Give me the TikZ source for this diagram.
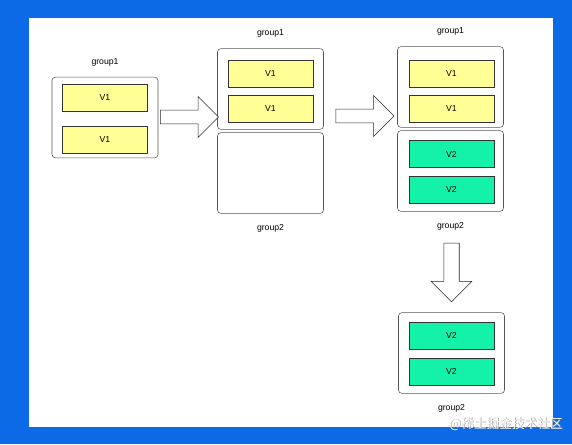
\documentclass[tikz,border=0pt]{standalone}
\usepackage{fontspec}
\setmainfont{Liberation Sans}
\newfontfamily\cjk{Noto Sans CJK SC}
\usepackage{xcolor}
\usetikzlibrary{positioning,shapes.arrows}
\definecolor{frameblue}{RGB}{12,106,230}
\definecolor{vyellow}{RGB}{255,255,150}
\definecolor{vgreen}{RGB}{20,242,170}
\definecolor{groupline}{RGB}{85,85,85}

\begin{document}
\begin{tikzpicture}[
    x=0.75pt, y=-0.75pt,
    every node/.style={font=\fontsize{6.5}{8}\selectfont},
    group/.style={draw=groupline, rounded corners=2.5pt, fill=white, minimum width=79.5pt, minimum height=60.5pt, inner sep=0pt},
    vbox/.style={draw=black!80, minimum width=63.75pt, minimum height=20.5pt, inner sep=0pt},
    v1box/.style={vbox, fill=vyellow},
    v2box/.style={vbox, fill=vgreen},
    blockarr/.style={single arrow, draw=black!85, fill=white, inner xsep=0pt, inner ysep=4.9pt, single arrow head extend=10.1pt, minimum height=43.5pt}
]
% frame
\fill[frameblue] (0,0) rectangle (572,444);
\fill[white] (29,18) rectangle (553,427);

% start: group1 only
\node[group] (ga) at (105,117.5) {};
\node[v1box] (ga1) at (105,97.5) {V1};
\node[v1box] (ga2) at (105,139.5) {V1};
\node[above=4.5pt of ga] (gal) {group1};

% group1 + empty group2
\node[group] (gb) at (270.5,89) {};
\node[v1box] (gb1) at (270.5,74) {V1};
\node[v1box] (gb2) at (270.5,108.5) {V1};
\node[above=4.5pt of gb] (gbl) {group1};
\node[group] (gc) at (270.5,173) {};
\node[below=4.5pt of gc] (gcl) {group2};

% group1 + filled group2
\node[group] (gd) at (450.5,87) {};
\node[v1box] (gd1) at (451.5,74) {V1};
\node[v1box] (gd2) at (451.5,108.5) {V1};
\node[above=4.5pt of gd] (gdl) {group1};
\node[group] (ge) at (450.5,171) {};
\node[v2box] (ge1) at (451.5,154) {V2};
\node[v2box] (ge2) at (451.5,189.5) {V2};
\node[below=4.5pt of ge] (gel) {group2};

% group2 only
\node[group] (gf) at (451.5,353) {};
\node[v2box] (gf1) at (451.5,335.5) {V2};
\node[v2box] (gf2) at (451.5,371.5) {V2};
\node[below=4.5pt of gf] (gfl) {group2};

% steps
\node[blockarr] (arra) at (186,117) {};
\node[blockarr] (arrb) at (361.5,116) {};
\node[blockarr, shape border rotate=270, inner xsep=5.6pt, inner ysep=0pt, single arrow head extend=9.4pt, minimum height=44pt] (arrc) at (451.5,268.5) {};

% watermark
\node[text=black!45, font=\cjk\fontsize{9.5}{10}\selectfont] (markshade) at (506.6,424.6) {@稀土掘金技术社区};
\node[text=white, font=\cjk\fontsize{9.5}{10}\selectfont] (mark) at (506,424) {@稀土掘金技术社区};
\end{tikzpicture}
\end{document}
